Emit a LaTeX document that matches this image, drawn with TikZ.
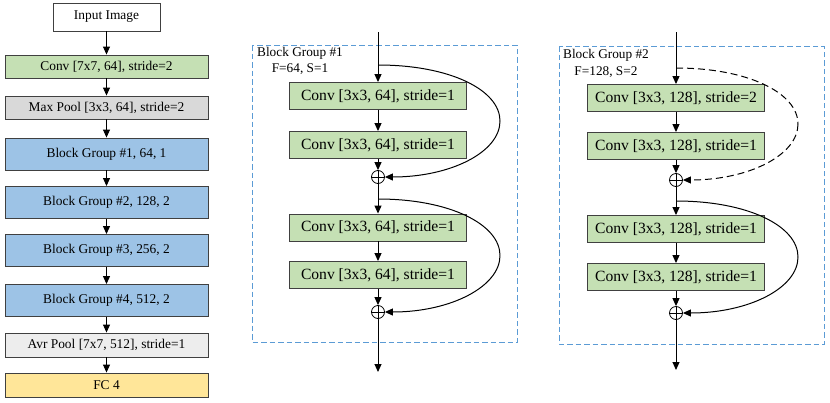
\documentclass[tikz,border=0pt]{standalone}
\usepackage{fontspec}
\setmainfont{Liberation Serif}
\usetikzlibrary{arrows.meta}
\definecolor{cgreen}{HTML}{C5E0B4}
\definecolor{cgray}{HTML}{D9D9D9}
\definecolor{cblue}{HTML}{9DC3E6}
\definecolor{clgray}{HTML}{EDEDED}
\definecolor{cyellow}{HTML}{FFE699}
\definecolor{cframe}{HTML}{5B9BD5}
\definecolor{cborder}{HTML}{404040}
\tikzset{
  lbox/.style={draw=cborder, line width=0.9pt, minimum width=203pt, inner sep=0pt, font=\fontsize{13.4}{15}\selectfont},
  gbox/.style={draw=cborder, line width=0.9pt, fill=cgreen, minimum width=177pt, minimum height=27pt, inner sep=0pt, font=\fontsize{15.6}{17}\selectfont},
  arr/.style={line width=1pt, -{Triangle[length=8pt,width=7pt]}},
  ln/.style={line width=1pt},
  plus/.style={circle, draw, line width=0.8pt, minimum size=13pt, inner sep=0pt},
  frame/.style={draw=cframe, line width=0.9pt, dash pattern=on 5.5pt off 3pt},
  glabel/.style={align=center, inner sep=0pt, font=\fontsize{13.3}{16.5}\selectfont}
}
\newcommand{\plussign}[1]{\draw[line width=0.8pt] (#1.north) -- (#1.south) (#1.west) -- (#1.east);}
\begin{document}
\begin{tikzpicture}[x=1pt,y=-1pt]
\useasboundingbox (0,0) rectangle (830,402);
% ---------- left column ----------
\node[draw=cborder, line width=0.9pt, fill=white, minimum width=107pt, minimum height=28pt, inner sep=0pt, font=\fontsize{13.4}{15}\selectfont] (in) at (106.5,17) {Input Image};
\node[lbox, fill=cgreen, minimum height=23pt] (c7) at (106.5,66.5) {Conv [7x7, 64], stride=2};
\node[lbox, fill=cgray, minimum height=23pt] (mp) at (106.5,107.5) {Max Pool [3x3, 64], stride=2};
\node[lbox, fill=cblue, minimum height=32pt] (bg1) at (106.5,154) {Block Group \#1, 64, 1};
\node[lbox, fill=cblue, minimum height=32pt] (bg2) at (106.5,202.5) {Block Group \#2, 128, 2};
\node[lbox, fill=cblue, minimum height=32pt] (bg3) at (106.5,250.5) {Block Group \#3, 256, 2};
\node[lbox, fill=cblue, minimum height=32pt] (bg4) at (106.5,300.5) {Block Group \#4, 512, 2};
\node[lbox, fill=clgray, minimum height=24pt] (ap) at (106.5,345) {Avr Pool [7x7, 512], stride=1};
\node[lbox, fill=cyellow, minimum height=24pt] (fc) at (106.5,385) {FC 4};
\foreach \a/\b in {in/c7, c7/mp, mp/bg1, bg1/bg2, bg2/bg3, bg3/bg4, bg4/ap, ap/fc}
  \draw[arr] (\a) -- (\b);
% ---------- block group 1 ----------
\draw[frame] (252,45) rectangle (517,342);
\node[glabel] (l1) at (300,61) {Block Group \#1\\F=64, S=1};
\coordinate (s1) at (378,32);
\node[gbox] (a1) at (378,96) {Conv [3x3, 64], stride=1};
\node[gbox] (a2) at (378,145) {Conv [3x3, 64], stride=1};
\node[plus] (p1) at (378,177) {}; \plussign{p1}
\node[gbox] (a3) at (378,227.5) {Conv [3x3, 64], stride=1};
\node[gbox] (a4) at (378,275) {Conv [3x3, 64], stride=1};
\node[plus] (p2) at (378,312) {}; \plussign{p2}
\coordinate (e1) at (378,372);
\coordinate (k1) at (378,65);
\coordinate (m1) at (500,121);
\coordinate (k2) at (378,199);
\coordinate (m2) at (500,255.5);
\draw[arr] (s1) -- (a1);
\draw[arr] (a1) -- (a2);
\draw[arr] (a2) -- (p1);
\draw[arr] (p1) -- (a3);
\draw[arr] (a3) -- (a4);
\draw[arr] (a4) -- (p2);
\draw[arr] (p2) -- (e1);
\draw[ln] (k1) .. controls +(72,0) and +(0,-31) .. (m1);
\draw[arr] (m1) .. controls +(0,31) and +(66,0) .. (p1.east);
\draw[ln] (k2) .. controls +(72,0) and +(0,-31) .. (m2);
\draw[arr] (m2) .. controls +(0,31) and +(66,0) .. (p2.east);
% ---------- block group 2 ----------
\draw[frame] (559,46) rectangle (824,344);
\node[glabel] (l2) at (606,63.5) {Block Group \#2\\F=128, S=2};
\coordinate (t1) at (676,32);
\node[gbox] (r1) at (676,98) {Conv [3x3, 128], stride=2};
\node[gbox] (r2) at (676,146) {Conv [3x3, 128], stride=1};
\node[plus] (q1) at (676,180) {}; \plussign{q1}
\node[gbox] (r3) at (676,229) {Conv [3x3, 128], stride=1};
\node[gbox] (r4) at (676,277) {Conv [3x3, 128], stride=1};
\node[plus] (q2) at (676,313) {}; \plussign{q2}
\coordinate (e2) at (676,370);
\coordinate (j1) at (676,68);
\coordinate (n1) at (798,124);
\coordinate (j2) at (676,201);
\coordinate (n2) at (798,257);
\draw[arr] (t1) -- (r1);
\draw[arr] (r1) -- (r2);
\draw[arr] (r2) -- (q1);
\draw[arr] (q1) -- (r3);
\draw[arr] (r3) -- (r4);
\draw[arr] (r4) -- (q2);
\draw[arr] (q2) -- (e2);
\draw[ln, dash pattern=on 7pt off 4pt] (j1) .. controls +(72,0) and +(0,-31) .. (n1);
\draw[arr, dash pattern=on 7pt off 4pt] (n1) .. controls +(0,31) and +(66,0) .. (q1.east);
\draw[ln] (j2) .. controls +(72,0) and +(0,-31) .. (n2);
\draw[arr] (n2) .. controls +(0,31) and +(66,0) .. (q2.east);
\end{tikzpicture}
\end{document}
